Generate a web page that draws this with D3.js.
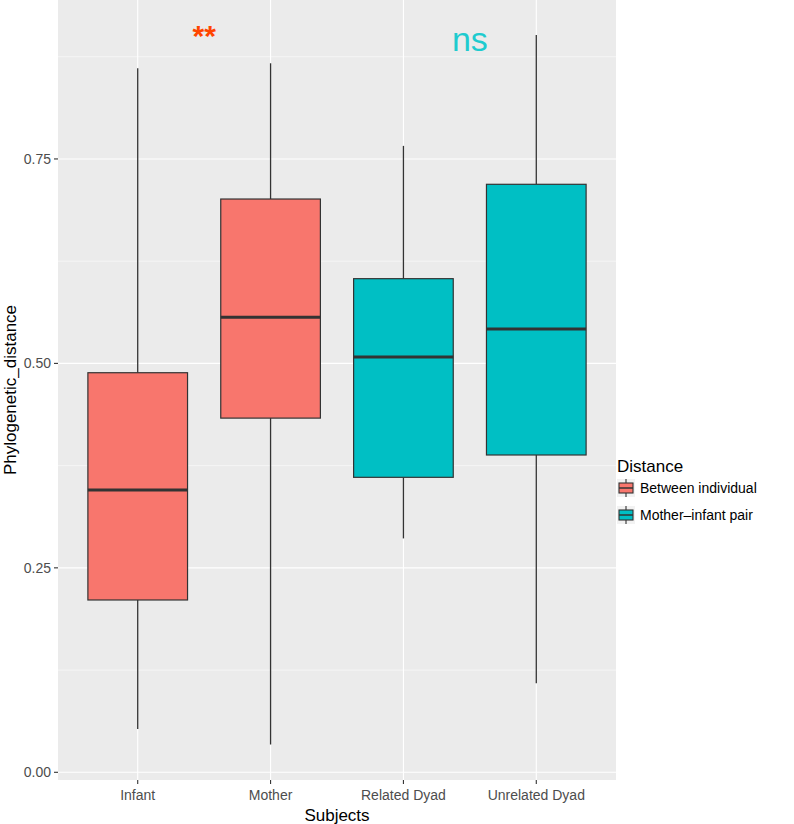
<!DOCTYPE html>
<html><head><meta charset="utf-8">
<script src="https://cdn.jsdelivr.net/npm/d3@7"></script>
<style>body{margin:0;background:#fff}svg{display:block}text{font-family:"Liberation Sans",Arial,sans-serif}</style>
</head><body>
<script>
const categories = ["Infant","Mother","Related Dyad","Unrelated Dyad"];
const groups = ["Between individual","Between individual","Mother\u2013infant pair","Mother\u2013infant pair"];
const whiskerLow = [0.053,0.034,0.286,0.109];
const q1 = [0.2107,0.4331,0.3607,0.388];
const median = [0.3452,0.5564,0.5078,0.5421];
const q3 = [0.4886,0.701,0.6036,0.719];
const whiskerHigh = [0.861,0.867,0.766,0.9016];
const yTicks = [0,0.25,0.5,0.75];
const yMinor = [0.125,0.375,0.625,0.875];
const legendLabels = ["Between individual","Mother\u2013infant pair"];
const legendColors = ["#F8766D","#00BFC4"];

const W=794,H=824;
const L=58,R=616,T=0,B=780;
const svg=d3.select("body").append("svg").attr("width",W).attr("height",H);
const y=d3.scaleLinear().domain([0,772.3/817.8]).range([772.3,0]);
const x=d3.scalePoint().domain(categories).range([L,R]).padding(0.6);
const step=x.step();
const cx=c=>x(c);
const color=d3.scaleOrdinal().domain(legendLabels).range(legendColors);

svg.append("rect").attr("x",L).attr("y",T).attr("width",R-L).attr("height",B-T).attr("fill","#EBEBEB");
const g=svg.append("g");
yMinor.forEach(v=>g.append("line").attr("x1",L).attr("x2",R).attr("y1",y(v)).attr("y2",y(v)).attr("stroke","#fff").attr("stroke-width",0.55));
yTicks.forEach(v=>g.append("line").attr("x1",L).attr("x2",R).attr("y1",y(v)).attr("y2",y(v)).attr("stroke","#fff").attr("stroke-width",1.1));
categories.forEach(c=>g.append("line").attr("x1",cx(c)).attr("x2",cx(c)).attr("y1",T).attr("y2",B).attr("stroke","#fff").attr("stroke-width",1.1));

const bw=step*0.75;
categories.forEach((c,i)=>{
  const xc=cx(c);
  g.append("line").attr("x1",xc).attr("x2",xc).attr("y1",y(whiskerHigh[i])).attr("y2",y(q3[i])).attr("stroke","#333").attr("stroke-width",1.3);
  g.append("line").attr("x1",xc).attr("x2",xc).attr("y1",y(q1[i])).attr("y2",y(whiskerLow[i])).attr("stroke","#333").attr("stroke-width",1.3);
  g.append("rect").attr("x",xc-bw/2).attr("y",y(q3[i])).attr("width",bw).attr("height",y(q1[i])-y(q3[i]))
    .attr("fill",color(groups[i])).attr("stroke","#333").attr("stroke-width",1.2);
  g.append("line").attr("x1",xc-bw/2).attr("x2",xc+bw/2).attr("y1",y(median[i])).attr("y2",y(median[i])).attr("stroke","#333").attr("stroke-width",3);
});

// annotations
svg.append("text").attr("x",cx("Infant")+step*0.5).attr("y",46).attr("text-anchor","middle").attr("fill","#FF4500").attr("font-size",30).attr("font-weight","bold").text("**");
svg.append("text").attr("x",cx("Related Dyad")+step*0.5).attr("y",51).attr("text-anchor","middle").attr("fill","#1ECBCF").attr("font-size",34).text("ns");

// y axis
yTicks.forEach(v=>{
  svg.append("line").attr("x1",L-4).attr("x2",L).attr("y1",y(v)).attr("y2",y(v)).attr("stroke","#333").attr("stroke-width",1.1);
  svg.append("text").attr("x",L-7).attr("y",y(v)).attr("dy","0.35em").attr("text-anchor","end").attr("fill","#4D4D4D").attr("font-size",14).text(d3.format(".2f")(v));
});
categories.forEach(c=>{
  svg.append("line").attr("x1",cx(c)).attr("x2",cx(c)).attr("y1",B).attr("y2",B+4).attr("stroke","#333").attr("stroke-width",1.1);
  svg.append("text").attr("x",cx(c)).attr("y",800).attr("text-anchor","middle").attr("fill","#4D4D4D").attr("font-size",14).text(c);
});
svg.append("text").attr("x",(L+R)/2).attr("y",821).attr("text-anchor","middle").attr("fill","#000").attr("font-size",17).text("Subjects");
svg.append("text").attr("transform",`translate(16,${(T+B)/2}) rotate(-90)`).attr("text-anchor","middle").attr("fill","#000").attr("font-size",17).text("Phylogenetic_distance");

// legend
const lg=svg.append("g").attr("transform","translate(617,0)");
lg.append("text").attr("x",0).attr("y",472).attr("fill","#000").attr("font-size",17).text("Distance");
legendLabels.forEach((l,i)=>{
  const ky=479+i*27;
  lg.append("rect").attr("x",0).attr("y",ky).attr("width",18).attr("height",18).attr("fill","#F2F2F2");
  lg.append("line").attr("x1",9).attr("x2",9).attr("y1",ky).attr("y2",ky+18).attr("stroke","#333").attr("stroke-width",1.1);
  lg.append("rect").attr("x",2).attr("y",ky+4).attr("width",14).attr("height",10).attr("fill",legendColors[i]).attr("stroke","#333").attr("stroke-width",1.1);
  lg.append("line").attr("x1",2).attr("x2",16).attr("y1",ky+9).attr("y2",ky+9).attr("stroke","#333").attr("stroke-width",1.5);
  lg.append("text").attr("x",23).attr("y",ky+9).attr("dy","0.35em").attr("fill","#000").attr("font-size",14).text(l);
});
</script>
</body></html>
